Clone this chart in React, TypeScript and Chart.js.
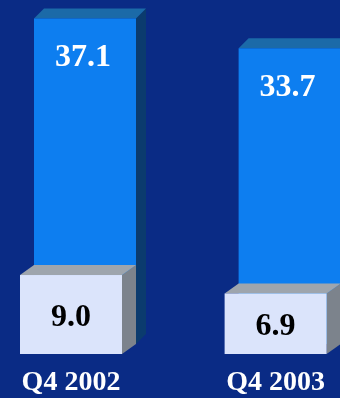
import React, { useEffect, useRef } from "react";
import { Chart, registerables } from "chart.js";
Chart.register(...registerables);

const categories = ["Q4 2002", "Q4 2003"];
const totalValues = [37.1, 33.7];
const lowerValues = [9.0, 6.9];
const totalLabels = ["37.1", "33.7"];
const lowerLabels = ["9.0", "6.9"];
const axisMax = 40;

export default function App() {
  const ref = useRef<HTMLCanvasElement>(null);
  useEffect(() => {
    document.body.style.margin = "0";
    const canvas = ref.current!;
    const drawBox = (
      ctx: CanvasRenderingContext2D,
      x0: number, x1: number, yTop: number, yBot: number,
      dx: number, dy: number, front: string, top: string, side: string
    ) => {
      ctx.fillStyle = side;
      ctx.beginPath();
      ctx.moveTo(x1, yTop);
      ctx.lineTo(x1 + dx, yTop - dy);
      ctx.lineTo(x1 + dx, yBot - dy);
      ctx.lineTo(x1, yBot);
      ctx.closePath();
      ctx.fill();
      ctx.fillStyle = top;
      ctx.beginPath();
      ctx.moveTo(x0, yTop);
      ctx.lineTo(x0 + dx, yTop - dy);
      ctx.lineTo(x1 + dx, yTop - dy);
      ctx.lineTo(x1, yTop);
      ctx.closePath();
      ctx.fill();
      ctx.fillStyle = front;
      ctx.fillRect(x0, yTop, x1 - x0, yBot - yTop);
    };
    const plugin = {
      id: "box3d",
      beforeDraw(chart: any) {
        const ctx = chart.ctx;
        ctx.save();
        ctx.fillStyle = "#0a2b85";
        ctx.fillRect(0, 0, chart.width, chart.height);
        ctx.restore();
      },
      afterDatasetsDraw(chart: any) {
        const ctx: CanvasRenderingContext2D = chart.ctx;
        ctx.save();
        const backDx = 14, backDy = 10;
        const blueMeta = chart.getDatasetMeta(0);
        const lightMeta = chart.getDatasetMeta(1);
        blueMeta.data.forEach((el: any, i: number) => {
          const p = el.getProps(["x", "y", "base", "width"], true);
          const x0 = p.x - p.width / 2 + backDx;
          const x1 = p.x + p.width / 2 + backDx;
          drawBox(ctx, x0, x1, p.y - backDy, p.base - backDy, 10, 10, "#0d7ef0", "#1b6aa8", "#0b3b6e");
          ctx.fillStyle = "#ffffff";
          ctx.font = "bold 32px 'Liberation Serif', serif";
          ctx.textAlign = "center";
          ctx.textBaseline = "alphabetic";
          ctx.fillText(totalLabels[i], p.x + backDx - 2, p.y - backDy + 48);
        });
        lightMeta.data.forEach((el: any, i: number) => {
          const p = el.getProps(["x", "y", "base", "width"], true);
          const x0 = p.x - p.width / 2;
          const x1 = p.x + p.width / 2;
          drawBox(ctx, x0, x1, p.y, p.base, 14, 10, "#dbe4fb", "#9ea5ad", "#7c838c");
          ctx.fillStyle = "#000000";
          ctx.font = "bold 32px 'Liberation Serif', serif";
          ctx.textAlign = "center";
          ctx.textBaseline = "alphabetic";
          ctx.fillText(lowerLabels[i], p.x, (p.y + p.base) / 2 + 11);
        });
        ctx.restore();
      },
    };
    const chart = new Chart(canvas, {
      type: "bar",
      data: {
        labels: categories,
        datasets: [
          { data: totalValues, backgroundColor: "rgba(0,0,0,0)", grouped: false, barThickness: 102 } as any,
          { data: lowerValues, backgroundColor: "rgba(0,0,0,0)", grouped: false, barThickness: 102 } as any,
        ],
      },
      options: {
        animation: false,
        responsive: false,
        layout: { padding: { top: 3, left: 71, right: 61, bottom: -14 } },
        plugins: { legend: { display: false }, tooltip: { enabled: false } },
        scales: {
          x: {
            offset: false,
            grid: { display: false, drawTicks: false },
            border: { display: false },
            ticks: {
              color: "#ffffff",
              padding: 15,
              font: { family: "'Liberation Serif', serif", size: 28, weight: "bold", lineHeight: 1.0 },
            },
          },
          y: { display: false, min: 0, max: axisMax },
        },
      },
      plugins: [plugin],
    });
    return () => chart.destroy();
  }, []);
  return <canvas ref={ref} width={340} height={398} style={{ display: "block", width: 340, height: 398 }} />;
}
